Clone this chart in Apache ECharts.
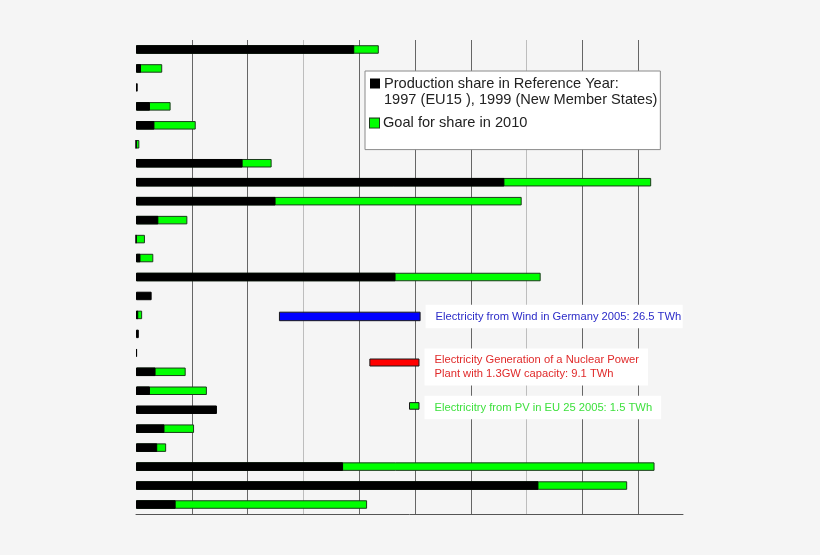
<!DOCTYPE html>
<html>
<head>
<meta charset="utf-8">
<script src="https://cdn.jsdelivr.net/npm/echarts@6/dist/echarts.min.js"></script>
<style>
  html, body { margin: 0; padding: 0; background: #f5f5f5; }
  #chart { width: 820px; height: 555px; }
</style>
</head>
<body>
<div id="chart"></div>
<script>
// Categories (rows, top to bottom) - labels are not visible in the picture
const countries = ['Austria','Belgium','Cyprus','Czech Republic','Denmark','Estonia','Finland','France','Germany','Greece','Hungary','Ireland','Italy','Latvia','Lithuania','Luxembourg','Malta','Netherlands','Poland','Portugal','Slovakia','Slovenia','Spain','Sweden','United Kingdom'];

// Production share in reference year (axis units, one gridline = 10)
const referenceValues = [39.1, 0.9, 0.3, 2.5, 3.3, 0, 19.1, 66.0, 25.0, 4.0, 0, 0.8, 46.5, 2.8, 0.4, 0.5, 0.2, 3.5, 2.5, 14.5, 5.1, 3.8, 37.1, 72.1, 7.1];
// Goal for share in 2010
const goalValues = [43.5, 4.7, null, 6.2, 10.7, 0.6, 24.3, 92.3, 69.1, 9.2, 1.6, 3.1, 72.5, null, 1.1, null, null, 8.9, 12.7, null, 10.4, 5.4, 92.9, 88.0, 41.4];

// Comparison bars: start, end, row position (in row units from top)
const annotationStart = [25.7, 41.9, 49.0];
const annotationEnd = [50.9, 50.7, 50.7];
const annotationRow = [14.58, 17.01, 19.30];
const annotationLabels = [
  'Electricity from Wind in Germany 2005: 26.5 TWh',
  'Electricity Generation of a Nuclear Power\nPlant with 1.3GW capacity: 9.1 TWh',
  'Electricitry from PV in EU 25 2005: 1.5 TWh'
];

const refName = 'Production share in Reference Year';
const goalName = 'Goal for share in 2010';

// styles for the comparison bars
const annStyles = [
  { fill: '#0000ff', text: '#2b2bc8', h: 8.5, dy: 0, pad: [5, 1.5, 5, 10] },
  { fill: '#ff0000', text: '#e02a2a', h: 7, dy: 4.5, pad: [5, 9, 5, 10] },
  { fill: '#00ff00', text: '#3ee03e', h: 6.6, dy: 1.5, pad: [5, 9, 5, 10] }
];

const chart = echarts.init(document.getElementById('chart'));
chart.setOption({
  backgroundColor: '#f5f5f5',
  animation: false,
  grid: { left: 136, right: 137, top: 40, bottom: 41 },
  legend: {
    orient: 'vertical',
    left: 365,
    top: 71,
    icon: 'none',
    itemWidth: 0,
    itemHeight: 10,
    itemGap: 8,
    backgroundColor: '#ffffff',
    borderColor: '#8a8a8a',
    borderWidth: 1,
    padding: [5, 3, 19, 0],
    selectedMode: false,
    data: [refName, goalName],
    formatter: function (name) {
      if (name === refName) {
        return '{kb|}{sp|}{t|Production share in Reference Year:}\n{ind|}{t|1997 (EU15 ), 1999 (New Member States)}';
      }
      return '{kg|}{sp|}{t|Goal for share in 2010}';
    },
    textStyle: {
      rich: {
        kb: { width: 10, height: 10, backgroundColor: '#000000' },
        kg: { width: 9, height: 9, backgroundColor: '#00ff00', borderColor: '#1b3b1b', borderWidth: 1 },
        sp: { width: 4 },
        ind: { width: 14 },
        t: { fontSize: 14.6, fontFamily: 'Liberation Sans', color: '#222222', lineHeight: 16.6 }
      }
    }
  },
  xAxis: {
    type: 'value',
    position: 'bottom',
    min: 0,
    max: 98,
    interval: 10,
    axisLabel: { show: false },
    axisTick: { show: false },
    axisLine: { show: true, onZero: false, lineStyle: { color: '#555555', width: 1 } },
    splitLine: {
      show: true,
      showMinLine: true,
      showMaxLine: false,
      lineStyle: {
        width: 1,
        color: ['rgba(0,0,0,0)', '#666666', '#666666', '#bdbdbd', '#666666', '#666666', '#666666', '#bdbdbd', '#666666', '#666666']
      }
    }
  },
  yAxis: [
    {
      type: 'category',
      data: countries,
      inverse: true,
      axisLabel: { show: false },
      axisTick: { show: false },
      axisLine: { show: false },
      splitLine: { show: false }
    },
    {
      type: 'value',
      min: 0,
      max: 25,
      inverse: true,
      show: false
    }
  ],
  series: [
    {
      name: goalName,
      type: 'bar',
      data: goalValues,
      barWidth: 8.5,
      barGap: '-100%',
      itemStyle: { color: '#00ff00', borderColor: '#1b3b1b', borderWidth: 1 }
    },
    {
      name: refName,
      type: 'bar',
      data: referenceValues,
      barWidth: 8.5,
      barGap: '-100%',
      itemStyle: { color: '#000000', borderColor: '#000000', borderWidth: 1 }
    },
    {
      name: 'comparison',
      type: 'custom',
      yAxisIndex: 1,
      data: annotationStart.map((s, i) => [s, annotationEnd[i], annotationRow[i]]),
      renderItem: function (params, api) {
        const i = params.dataIndex;
        const st = annStyles[i];
        const a = api.coord([api.value(0), api.value(2)]);
        const b = api.coord([api.value(1), api.value(2)]);
        return {
          type: 'rect',
          shape: { x: a[0], y: a[1] - st.h / 2, width: b[0] - a[0], height: st.h },
          style: { fill: st.fill, stroke: '#1a1a1a', lineWidth: 1 },
          textContent: {
            style: {
              text: annotationLabels[i],
              fill: st.text,
              backgroundColor: '#ffffff',
              padding: st.pad,
              fontSize: 11.2,
              fontFamily: 'Liberation Sans',
              lineHeight: 13.4
            }
          },
          textConfig: { position: 'right', distance: 5, offset: [0, st.dy] }
        };
      }
    }
  ]
});
</script>
</body>
</html>
